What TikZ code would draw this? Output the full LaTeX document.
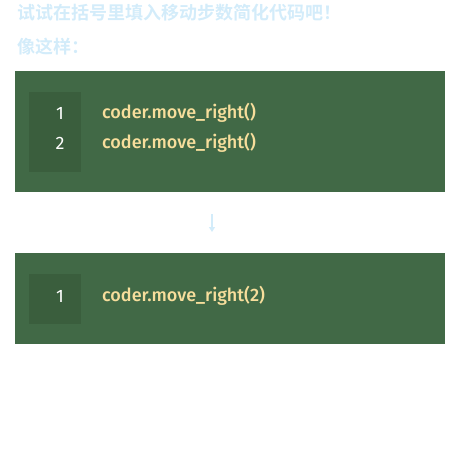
\documentclass[tikz,border=0pt]{standalone}
\usepackage{fontspec}
\setmainfont{Fira Sans}
\newfontfamily\codefont{Fira Sans Medium}
\newfontfamily\cjk{Noto Sans CJK SC}[BoldFont={Noto Sans CJK SC Bold}]
\usetikzlibrary{arrows.meta}
\definecolor{boxgreen}{HTML}{416946}
\definecolor{guttergreen}{HTML}{3A5E3D}
\definecolor{codeyellow}{HTML}{F7DE9C}
\definecolor{titleblue}{HTML}{D3ECFA}
\tikzset{
  codebox/.style={fill=boxgreen, draw=none},
  gutter/.style={fill=guttergreen, draw=none},
  lineno/.style={text=white, font=\fontsize{18}{20}\selectfont, anchor=center, inner sep=0pt},
  codetext/.style={text=codeyellow, font=\codefont\fontsize{18}{20}\selectfont, anchor=west, inner sep=0pt},
  title/.style={text=titleblue, font=\cjk\bfseries\fontsize{18}{21}\selectfont, anchor=west, inner sep=0pt},
}
\begin{document}
\begin{tikzpicture}[x=1pt,y=-1pt]
\useasboundingbox (0,0) rectangle (460,470);
\node[title] (t1) at (17,13) {试试在括号里填入移动步数简化代码吧！};
\node[title] (t2) at (17,47) {像这样：};
% box 1
\fill[codebox] (15,71) rectangle (445,192);
\fill[gutter] (29,92) rectangle (81,172);
\node[lineno] (n1) at (60,113) {1};
\node[lineno] (n2) at (60,143) {2};
\node[codetext] (c1) at (102,113) {coder.move\_right()};
\node[codetext] (c2) at (102,143) {coder.move\_right()};
% arrow
\coordinate (a1) at (212,214);
\coordinate (a2) at (212,232);
\draw[titleblue, line width=1.2pt, -{Triangle[width=6pt,length=5pt]}] (a1) -- (a2);
% box 2
\fill[codebox] (15,253) rectangle (445,344);
\fill[gutter] (29,274) rectangle (81,324);
\node[lineno] (n3) at (60,296) {1};
\node[codetext] (c3) at (102,296) {coder.move\_right(2)};
\end{tikzpicture}
\end{document}
